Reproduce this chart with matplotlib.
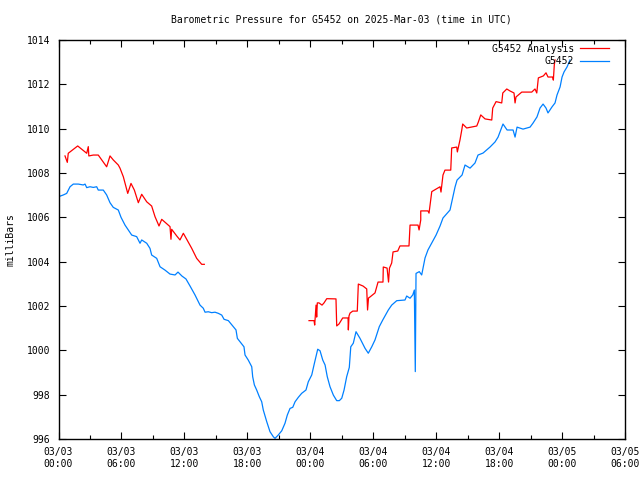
import numpy as np
import matplotlib
matplotlib.use("Agg")
import matplotlib.pyplot as plt
from matplotlib.ticker import MultipleLocator

# hours since 2025-03-03 00:00 UTC, pressure in millibars
obs_hours = [0.00, 0.46, 0.78, 1.10, 1.41, 1.89, 2.36, 2.53, 2.69, 3.00, 3.32, 3.64, 3.79, 4.27,
             4.59, 4.91, 5.22, 5.70, 5.96, 6.34, 6.65, 6.98, 7.45, 7.77, 7.93, 8.41, 8.72, 8.88,
             9.36, 9.68, 10.15, 10.63, 11.11, 11.39, 11.77, 12.15, 12.54, 13.01, 13.49, 13.80,
             13.97, 14.28, 14.60, 14.92, 15.23, 15.56, 15.78, 16.19, 16.66, 16.92, 17.05, 17.46,
             17.68, 17.78, 18.09, 18.42, 18.51, 18.67, 18.89, 19.14, 19.37, 19.52, 19.85, 20.16,
             20.48, 20.64, 20.95, 21.28, 21.59, 21.81, 22.07, 22.33, 22.55, 22.86, 23.18, 23.59,
             23.81, 24.14, 24.39, 24.71, 24.93, 25.19, 25.41, 25.62, 25.88, 26.20, 26.52, 26.77,
             27.00, 27.22, 27.47, 27.72, 27.86, 28.10, 28.36, 28.74, 29.22, 29.53, 29.86, 30.17,
             30.58, 30.91, 31.44, 31.76, 32.24, 33.03, 33.19, 33.51, 33.77, 33.92, 33.96, 34.01,
             34.08, 34.39, 34.62, 34.94, 35.22, 35.58, 35.99, 36.37, 36.65, 37.32, 37.80, 37.99,
             38.47, 38.75, 39.23, 39.70, 39.99, 40.47, 41.13, 41.61, 41.90, 42.37, 42.76, 43.33,
             43.52, 43.71, 44.28, 44.95, 45.23, 45.61, 45.90, 46.19, 46.47, 46.66, 47.04, 47.33,
             47.52, 47.81, 48.00, 48.19, 48.47, 48.76]
obs_mb = [1006.93, 1007.01, 1007.08, 1007.38, 1007.50, 1007.50, 1007.46, 1007.50, 1007.34, 1007.38,
          1007.35, 1007.38, 1007.23, 1007.23, 1007.01, 1006.66, 1006.45, 1006.33, 1006.00, 1005.65,
          1005.43, 1005.20, 1005.13, 1004.83, 1004.98, 1004.83, 1004.60, 1004.30, 1004.15, 1003.77,
          1003.62, 1003.44, 1003.40, 1003.53, 1003.35, 1003.22, 1002.90, 1002.50, 1002.04, 1001.90,
          1001.72, 1001.74, 1001.70, 1001.72, 1001.67, 1001.59, 1001.40, 1001.34, 1001.07, 1000.92,
          1000.54, 1000.29, 1000.16, 999.79, 999.56, 999.26, 998.81, 998.44, 998.21, 997.91,
          997.68, 997.31, 996.78, 996.33, 996.10, 996.03, 996.18, 996.37, 996.71, 997.08,
          997.38, 997.43, 997.68, 997.88, 998.06, 998.21, 998.58, 998.89, 999.41, 1000.05,
          999.98, 999.56, 999.34, 998.81, 998.36, 997.98, 997.73, 997.73, 997.84, 998.21,
          998.81, 999.23, 1000.16, 1000.32, 1000.84, 1000.54, 1000.09, 999.87, 1000.16, 1000.47,
          1001.07, 1001.37, 1001.82, 1002.04, 1002.24, 1002.27, 1002.45, 1002.35, 1002.50, 1002.72,
          1001.07, 999.04, 1003.47, 1003.55, 1003.40, 1004.17, 1004.53, 1004.84, 1005.20, 1005.61,
          1005.97, 1006.33, 1007.37, 1007.68, 1007.91, 1008.36, 1008.22, 1008.45, 1008.81, 1008.90,
          1009.17, 1009.40, 1009.62, 1010.21, 1009.94, 1009.94, 1009.62, 1010.07, 1009.98, 1010.07,
          1010.25, 1010.53, 1010.93, 1011.11, 1010.93, 1010.71, 1010.98, 1011.16, 1011.52, 1011.88,
          1012.33, 1012.56, 1012.78, 1013.10]

# analysis, first run (03/03 morning)
ana1_hours = [0.62, 0.84, 0.93, 1.83, 2.69, 2.84, 2.89, 3.32, 3.79, 4.59, 4.91, 5.22, 5.70, 5.86,
              6.18, 6.60, 6.91, 7.23, 7.61, 7.93, 8.41, 8.88, 9.20, 9.58, 9.84, 10.63, 10.72, 10.79,
              11.27, 11.58, 11.90, 12.22, 12.70, 13.17, 13.65, 13.90]
ana1_mb = [1008.77, 1008.48, 1008.89, 1009.22, 1008.89, 1009.19, 1008.77, 1008.81, 1008.81, 1008.28,
           1008.77, 1008.59, 1008.36, 1008.22, 1007.83, 1007.08, 1007.53, 1007.23, 1006.66, 1007.04,
           1006.70, 1006.51, 1006.03, 1005.61, 1005.91, 1005.58, 1005.01, 1005.46, 1005.16, 1004.98,
           1005.28, 1005.01, 1004.60, 1004.15, 1003.88, 1003.88]

# analysis, second run (from 03/04)
ana2_hours = [23.88, 24.36, 24.42, 24.55, 24.61, 24.67, 24.83, 25.12, 25.31, 25.57, 26.45, 26.52,
              26.74, 27.09, 27.60, 27.63, 27.69, 27.79, 28.05, 28.48, 28.58, 29.03, 29.38, 29.46,
              29.55, 29.70, 30.17, 30.46, 30.93, 30.96, 31.32, 31.46, 31.55, 31.76, 31.89, 32.34,
              32.55, 33.41, 33.51, 34.27, 34.37, 34.53, 34.53, 35.22, 35.32, 35.58, 36.37, 36.46,
              36.65, 36.84, 37.39, 37.48, 37.96, 38.02, 38.27, 38.44, 38.53, 38.91, 39.87, 40.02,
              40.25, 40.66, 41.30, 41.39, 41.71, 42.25, 42.35, 42.73, 43.04, 43.42, 43.52, 43.61,
              44.16, 45.11, 45.42, 45.59, 45.74, 46.22, 46.47, 46.66, 47.11, 47.17, 47.26, 47.33]
ana2_mb = [1001.34, 1001.34, 1001.14, 1002.04, 1001.50, 1002.14, 1002.14, 1002.04, 1002.14, 1002.33,
           1002.32, 1001.10, 1001.19, 1001.46, 1001.46, 1000.92, 1001.55, 1001.68, 1001.77, 1001.77,
           1002.99, 1002.90, 1002.77, 1001.82, 1002.36, 1002.41, 1002.59, 1003.08, 1003.08, 1003.76,
           1003.71, 1003.08, 1003.71, 1003.94, 1004.44, 1004.48, 1004.71, 1004.71, 1005.65, 1005.65,
           1005.43, 1005.88, 1006.29, 1006.29, 1006.19, 1007.16, 1007.38, 1007.14, 1007.91, 1008.13,
           1008.13, 1009.13, 1009.17, 1008.95, 1009.49, 1009.94, 1010.21, 1010.03, 1010.12, 1010.30,
           1010.62, 1010.44, 1010.39, 1010.93, 1011.22, 1011.16, 1011.61, 1011.79, 1011.70, 1011.61,
           1011.16, 1011.43, 1011.65, 1011.65, 1011.79, 1011.61, 1012.29, 1012.38, 1012.52, 1012.33,
           1012.33, 1012.19, 1012.87, 1013.10]

tick_hours = np.arange(0, 55, 6)
tick_labels = ["03/03\n00:00", "03/03\n06:00", "03/03\n12:00", "03/03\n18:00", "03/04\n00:00",
               "03/04\n06:00", "03/04\n12:00", "03/04\n18:00", "03/05\n00:00", "03/05\n06:00"]

plt.rcParams["font.family"] = "DejaVu Sans Mono"
plt.rcParams["font.size"] = 7

fig = plt.figure(figsize=(6.4, 4.8), dpi=100)
ax = fig.add_axes([58.5 / 640, 41 / 480, 566.5 / 640, 399 / 480])

ax.plot(ana1_hours, ana1_mb, color="#ff0000", lw=0.9, label="G5452 Analysis")
ax.plot(ana2_hours, ana2_mb, color="#ff0000", lw=0.9)
ax.plot(obs_hours, obs_mb, color="#0080ff", lw=0.9, label="G5452")

ax.set_xlim(0, 54)
ax.set_ylim(996, 1014)
ax.set_xticks(tick_hours)
ax.set_xticklabels(tick_labels)
ax.xaxis.set_minor_locator(MultipleLocator(3))
ax.yaxis.set_major_locator(MultipleLocator(2))
ax.tick_params(which="both", direction="in", top=True, right=True, width=0.8, pad=6)
ax.tick_params(which="major", length=5)
ax.tick_params(which="minor", length=3)
for s in ax.spines.values():
    s.set_linewidth(1.0)

ax.set_ylabel("milliBars", labelpad=8)
ax.set_title("Barometric Pressure for G5452 on 2025-Mar-03 (time in UTC)", pad=12.5, fontsize=7)

ax.legend(loc="upper right", bbox_to_anchor=(0.982, 1.005), frameon=False, markerfirst=False,
          handlelength=3.0, handletextpad=0.6, labelspacing=0.25, borderaxespad=0.2)

fig.savefig("out.png", dpi=100)
